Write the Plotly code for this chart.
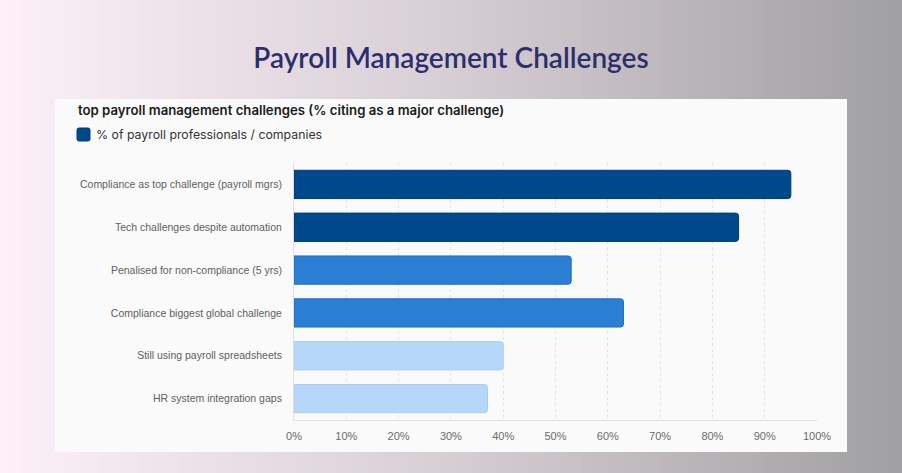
import plotly.graph_objects as go

# chart data
challenges = [
    "Compliance as top challenge (payroll mgrs)",
    "Tech challenges despite automation",
    "Penalised for non-compliance (5 yrs)",
    "Compliance biggest global challenge",
    "Still using payroll spreadsheets",
    "HR system integration gaps",
]
pct_citing = [95, 85, 53, 63, 40, 37]
bar_colors = ["#00488c", "#00488c", "#2a7fd5", "#2a7fd5", "#b7d7f8", "#b7d7f8"]
edge_colors = ["#003a75", "#003a75", "#1f6fc0", "#1f6fc0", "#a9cdf3", "#a9cdf3"]
x_ticks = list(range(0, 101, 10))
x_tick_labels = [f"{t}%" for t in x_ticks]
series_name = "% of payroll professionals / companies"

W, H = 902, 473
L, R, T, B = 294, 817, 163, 420  # plot area in pixels


def px(x):
    return (x - L) / (R - L)


def py(y):
    return (B - y) / (B - T)


def mix(c1, c2, f):
    return "rgb(%d,%d,%d)" % tuple(round(a + (b - a) * f) for a, b in zip(c1, c2))


# background gradient, left pink to right grey
stops = [(0, (253, 240, 249)), (450, (215, 206, 212)), (902, (160, 159, 161))]
shapes = []
n = 90
for i in range(n):
    x0 = W * i / n
    x1 = W * (i + 1) / n
    xc = (x0 + x1) / 2
    for (a, ca), (b, cb) in zip(stops[:-1], stops[1:]):
        if a <= xc <= b:
            col = mix(ca, cb, (xc - a) / (b - a))
    shapes.append(dict(type="rect", xref="paper", yref="paper", layer="below",
                       x0=px(x0), x1=px(x1 + 0.5), y0=py(H), y1=py(0),
                       fillcolor=col, line_width=0))
# white card behind the chart
shapes.append(dict(type="rect", xref="paper", yref="paper", layer="below",
                   x0=px(55), x1=px(847), y0=py(452), y1=py(99),
                   fillcolor="#fafafa", line_width=0))
# legend swatch (small rounded square)
sx0, sx1, sy0, sy1, r = 77, 90, 128, 141, 2
shapes.append(dict(
    type="path", xref="paper", yref="paper", layer="above",
    path=(f"M {px(sx0 + r)},{py(sy0)} L {px(sx1 - r)},{py(sy0)} "
          f"Q {px(sx1)},{py(sy0)} {px(sx1)},{py(sy0 + r)} L {px(sx1)},{py(sy1 - r)} "
          f"Q {px(sx1)},{py(sy1)} {px(sx1 - r)},{py(sy1)} L {px(sx0 + r)},{py(sy1)} "
          f"Q {px(sx0)},{py(sy1)} {px(sx0)},{py(sy1 - r)} L {px(sx0)},{py(sy0 + r)} "
          f"Q {px(sx0)},{py(sy0)} {px(sx0 + r)},{py(sy0)} Z"),
    fillcolor=bar_colors[0], line=dict(color=edge_colors[0], width=1)))

fig = go.Figure(go.Bar(
    x=pct_citing, y=challenges, orientation="h",
    name=series_name,
    marker=dict(color=bar_colors, line=dict(color=edge_colors, width=1),
                cornerradius=3),
    showlegend=False,
    hovertemplate="%{y}: %{x}%<extra></extra>",
))

fig.update_layout(
    width=W, height=H,
    margin=dict(l=L, r=W - R, t=T, b=H - B),
    paper_bgcolor="#e0d8de", plot_bgcolor="rgba(0,0,0,0)",
    bargap=0.34,
    shapes=shapes,
    title=dict(text="Payroll Management Challenges", x=0.5, xanchor="center",
               y=1 - 58.5 / H, yanchor="middle",
               font=dict(family="Lato", size=28, color="#2d2e6e", weight=600)),
    annotations=[
        dict(text="top payroll management challenges (% citing as a major challenge)",
             xref="paper", yref="paper", x=px(76), y=py(110), xanchor="left", yanchor="middle",
             showarrow=False, font=dict(family="Inter", size=13.2, color="#1c1c1c", weight=600)),
        dict(text=series_name, xref="paper", yref="paper", x=px(94), y=py(134.5),
             xanchor="left", yanchor="middle", showarrow=False,
             font=dict(family="Inter", size=12.3, color="#333333")),
    ],
    xaxis=dict(range=[0, 100], tickvals=x_ticks, ticktext=x_tick_labels,
               showgrid=True, gridcolor="#e3e3e3", griddash="3px,3px", zeroline=False,
               showline=True, linecolor="#e0e0e0", ticklabelstandoff=6,
               tickfont=dict(family="Liberation Sans", size=11, color="#6b6b6b")),
    yaxis=dict(autorange="reversed", showgrid=False, showline=True, linecolor="#e0e0e0",
               ticklabelstandoff=9,
               tickfont=dict(family="Liberation Sans", size=10.5, color="#5f5f5f")),
    font=dict(family="Liberation Sans"),
)

fig.write_html("out.html", config={"displayModeBar": False},
               post_script="document.body.style.margin = '0px';")
